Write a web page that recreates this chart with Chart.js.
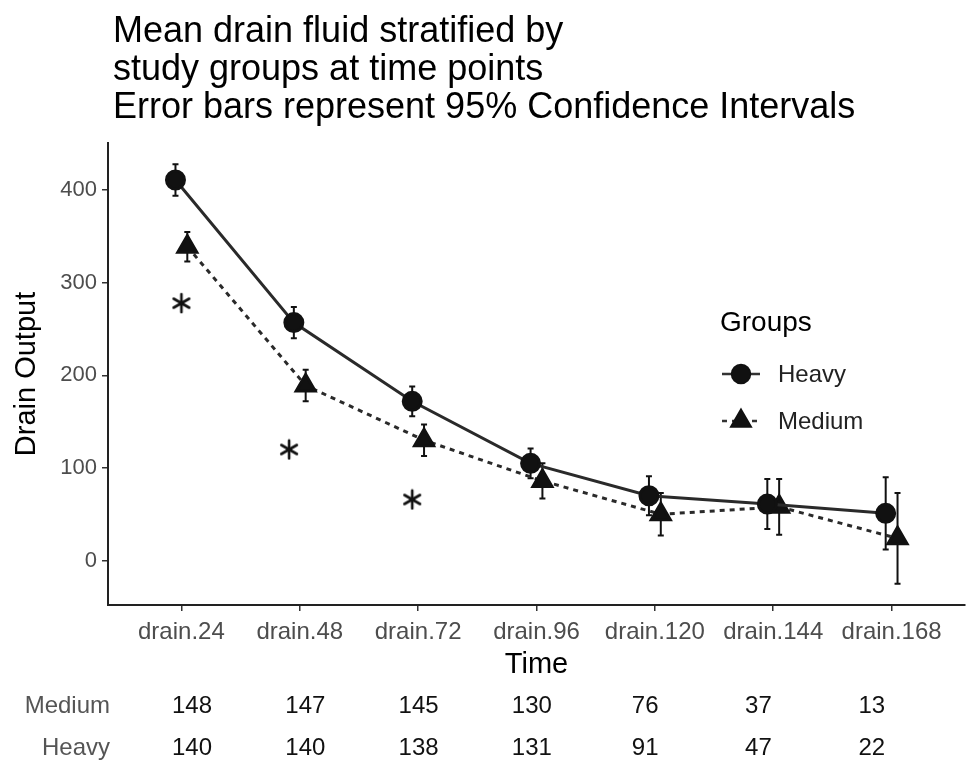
<!DOCTYPE html>
<html lang="en">
<head>
  <meta charset="UTF-8">
  <title>Mean drain fluid</title>
  <script src="https://cdn.jsdelivr.net/npm/chart.js@4.4.1/dist/chart.umd.min.js"></script>
  <style>
    html, body { margin: 0; padding: 0; background: #fff; }
    #wrap { width: 967px; height: 765px; }
  </style>
</head>
<body>
  <div id="wrap">
    <canvas id="drainChart" width="967" height="765"></canvas>
  </div>
  <script>
    // categories and values
    const timeLabels = ["drain.24", "drain.48", "drain.72", "drain.96", "drain.120", "drain.144", "drain.168"];
    const heavyMean = [411, 257, 172, 105, 70, 61, 51];
    const heavyErr = [17, 17, 16, 16, 21, 27, 39];
    const mediumMean = [339, 189, 130, 86, 50, 58, 24];
    const mediumErr = [16, 17, 17, 19, 23, 30, 49];
    const starX = [0, 0.91, 1.95];
    const starY = [278, 120, 66];
    const yTicks = [0, 100, 200, 300, 400];
    const mediumCount = [148, 147, 145, 130, 76, 37, 13];
    const heavyCount = [140, 140, 138, 131, 91, 47, 22];
    const titleLines = ["Mean drain fluid stratified by", "study groups at time points", "Error bars represent 95% Confidence Intervals"];

    const FONT = "'Liberation Sans', Arial, sans-serif";
    const DODGE = 0.05;
    const INK = "#111";

    // asterisk marker
    function makeAsterisk(size) {
      const c = document.createElement("canvas");
      c.width = size; c.height = size;
      const g = c.getContext("2d");
      g.strokeStyle = INK;
      g.lineWidth = 2.6;
      g.lineCap = "round";
      const r = size / 2 - 2;
      [90, 30, -30].forEach((deg) => {
        const a = deg * Math.PI / 180;
        g.beginPath();
        g.moveTo(size / 2 - r * Math.cos(a), size / 2 - r * Math.sin(a));
        g.lineTo(size / 2 + r * Math.cos(a), size / 2 + r * Math.sin(a));
        g.stroke();
      });
      return c;
    }

    const extras = {
      id: "extras",
      beforeDatasetsDraw(chart) {
        const ctx = chart.ctx;
        const xs = chart.scales.x, ys = chart.scales.y;
        ctx.save();
        ctx.strokeStyle = INK;
        ctx.lineWidth = 2;
        const bars = (means, errs, shift) => {
          means.forEach((m, i) => {
            const x = xs.getPixelForValue(i + shift);
            const y1 = ys.getPixelForValue(m + errs[i]);
            const y2 = ys.getPixelForValue(m - errs[i]);
            ctx.beginPath();
            ctx.moveTo(x, y1); ctx.lineTo(x, y2);
            ctx.moveTo(x - 3, y1); ctx.lineTo(x + 3, y1);
            ctx.moveTo(x - 3, y2); ctx.lineTo(x + 3, y2);
            ctx.stroke();
          });
        };
        bars(heavyMean, heavyErr, -DODGE);
        bars(mediumMean, mediumErr, DODGE);
        ctx.restore();
      },
      afterDraw(chart) {
        const ctx = chart.ctx;
        const xs = chart.scales.x;
        ctx.save();

        // title
        ctx.fillStyle = "#000";
        ctx.font = "36px " + FONT;
        ctx.textAlign = "left";
        ctx.textBaseline = "alphabetic";
        titleLines.forEach((t, i) => ctx.fillText(t, 113, 42 + i * 38));

        // legend
        ctx.font = "28px " + FONT;
        ctx.textBaseline = "middle";
        ctx.fillText("Groups", 720, 323);
        ctx.font = "24px " + FONT;
        ctx.fillStyle = "#222";
        ctx.fillText("Heavy", 778, 375);
        ctx.fillText("Medium", 778, 422);
        ctx.strokeStyle = "#333";
        ctx.lineWidth = 2.5;
        ctx.beginPath(); ctx.moveTo(722, 374); ctx.lineTo(760, 374); ctx.stroke();
        ctx.setLineDash([5, 5]);
        ctx.beginPath(); ctx.moveTo(722, 421); ctx.lineTo(760, 421); ctx.stroke();
        ctx.setLineDash([]);
        ctx.fillStyle = INK;
        ctx.strokeStyle = INK;
        Chart.helpers.drawPoint(ctx, { pointStyle: "circle", radius: 9, borderWidth: 1 }, 741, 374);
        ctx.fill();
        Chart.helpers.drawPoint(ctx, { pointStyle: "triangle", radius: 11, borderWidth: 1 }, 741, 421);
        ctx.fill();

        // numbers-at-risk table
        ctx.font = "24px " + FONT;
        ctx.textAlign = "right";
        ctx.fillStyle = "#555";
        ctx.fillText("Medium", 110, 706);
        ctx.fillText("Heavy", 110, 748);
        ctx.textAlign = "center";
        ctx.fillStyle = INK;
        mediumCount.forEach((n, i) => ctx.fillText(String(n), xs.getPixelForValue(0.09 + i * 0.957), 706));
        heavyCount.forEach((n, i) => ctx.fillText(String(n), xs.getPixelForValue(0.09 + i * 0.957), 748));
        ctx.restore();
      }
    };

    const ctx = document.getElementById("drainChart").getContext("2d");
    new Chart(ctx, {
      type: "line",
      data: {
        datasets: [
          {
            label: "Heavy",
            data: heavyMean.map((v, i) => ({ x: i - DODGE, y: v })),
            borderColor: "#2a2a2a",
            borderWidth: 3,
            pointStyle: "circle",
            pointRadius: 9,
            pointBackgroundColor: INK,
            pointBorderColor: INK,
            tension: 0
          },
          {
            label: "Medium",
            data: mediumMean.map((v, i) => ({ x: i + DODGE, y: v })),
            borderColor: "#2a2a2a",
            borderWidth: 3,
            borderDash: [5, 5],
            pointStyle: "triangle",
            pointRadius: 11,
            pointBackgroundColor: INK,
            pointBorderColor: INK,
            tension: 0
          },
          {
            label: "sig",
            data: starX.map((x, i) => ({ x: x, y: starY[i] })),
            showLine: false,
            pointStyle: makeAsterisk(22),
            pointRadius: 11
          }
        ]
      },
      options: {
        responsive: false,
        animation: false,
        layout: { autoPadding: false, padding: { top: 143, right: 2, bottom: 82, left: 0 } },
        plugins: { legend: { display: false }, tooltip: { enabled: false } },
        scales: {
          x: {
            type: "linear",
            min: -0.62,
            max: 6.62,
            afterBuildTicks: (s) => { s.ticks = timeLabels.map((_, i) => ({ value: i })); },
            afterFit: (s) => { s.height = 78; s.paddingLeft = 0; s.paddingRight = 0; },
            ticks: {
              callback: (v) => timeLabels[v],
              font: { family: FONT, size: 24 },
              color: "#4d4d4d",
              padding: 7,
              maxRotation: 0,
              autoSkip: false
            },
            grid: { drawOnChartArea: false, tickLength: 6, color: "#333", lineWidth: 1.5 },
            border: { color: "#222", width: 2 },
            title: { display: true, text: "Time", font: { family: FONT, size: 29 }, color: "#000", padding: { top: 0, bottom: 1 } }
          },
          y: {
            min: -48,
            max: 451,
            afterBuildTicks: (s) => { s.ticks = yTicks.map((v) => ({ value: v })); },
            afterFit: (s) => { s.width = 108; },
            ticks: {
              font: { family: FONT, size: 22 },
              color: "#4d4d4d",
              padding: 5
            },
            grid: { drawOnChartArea: false, tickLength: 6, color: "#333", lineWidth: 1.5 },
            border: { color: "#222", width: 2 },
            title: { display: true, text: "Drain Output", font: { family: FONT, size: 29 }, color: "#000", padding: { top: 10, bottom: 0 } }
          }
        }
      },
      plugins: [extras]
    });
  </script>
</body>
</html>
